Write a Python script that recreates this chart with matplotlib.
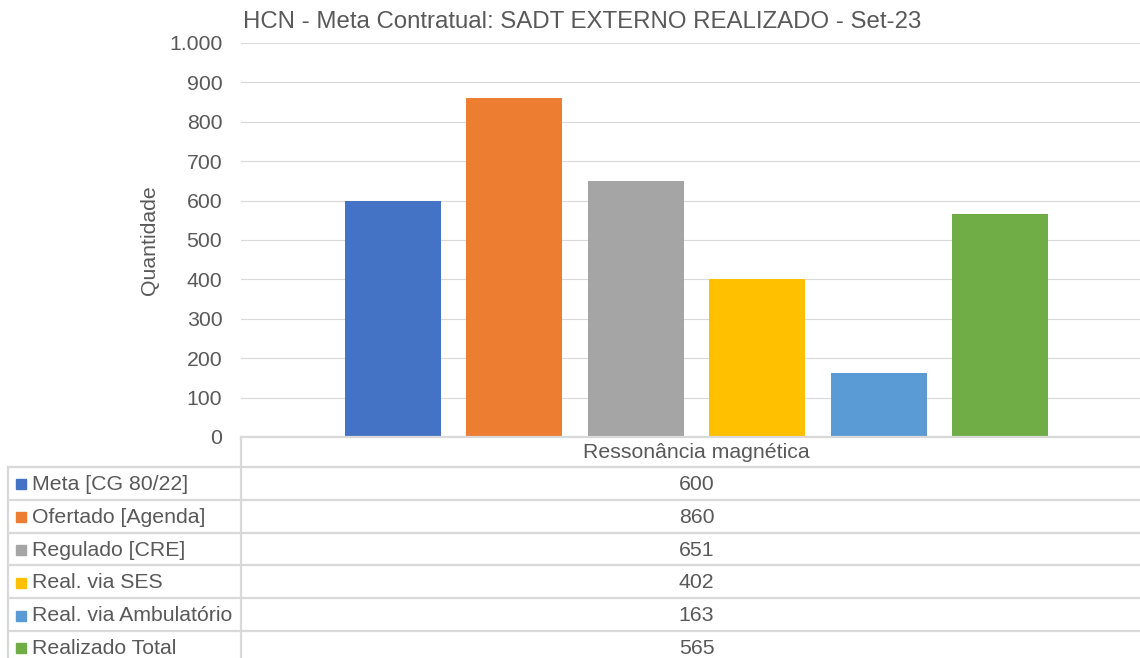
import matplotlib
matplotlib.use("Agg")
import matplotlib.pyplot as plt
from matplotlib.lines import Line2D
from matplotlib.patches import Rectangle

plt.rcParams['font.family'] = ['Liberation Sans', 'DejaVu Sans']

title = "HCN - Meta Contratual: SADT EXTERNO REALIZADO - Set-23"
category = "Ressonância magnética"
series = ["Meta [CG 80/22]", "Ofertado [Agenda]", "Regulado [CRE]",
          "Real. via SES", "Real. via Ambulatório", "Realizado Total"]
values = [600, 860, 651, 402, 163, 565]
colors = ["#4472C4", "#ED7D31", "#A5A5A5", "#FFC000", "#5B9BD5", "#70AD47"]
yticks = [0, 100, 200, 300, 400, 500, 600, 700, 800, 900, 1000]
ytick_labels = ["0", "100", "200", "300", "400", "500", "600", "700", "800", "900", "1.000"]

W, H = 1140, 658
fig = plt.figure(figsize=(W / 100, H / 100), dpi=100)
txt = "#595959"
grid = "#D9D9D9"
fs = 15.3

def fx(px):
    return px / W

def fy(py):
    return 1 - py / H

ax_l, ax_r, ax_t, ax_b = 241, 1140, 43, 437
ax = fig.add_axes([fx(ax_l), fy(ax_b), fx(ax_r - ax_l), (ax_b - ax_t) / H])
step = 121.4
c0 = 393
ax.set_xlim((ax_l - c0) / step, (ax_r - c0) / step)
ax.set_ylim(0, 1000)
for i, (v, c) in enumerate(zip(values, colors)):
    ax.bar(i, v, width=96 / step, color=c, zorder=3)
ax.set_yticks(yticks)
ax.set_yticklabels(ytick_labels, color=txt, fontsize=fs)
ax.tick_params(axis='y', length=0, pad=13.5)
ax.set_xticks([])
ax.grid(axis='y', color=grid, linewidth=0.8, zorder=0)
for s in ax.spines.values():
    s.set_visible(False)

fig.text(fx(150), fy(240), "Quantidade", color=txt, fontsize=fs, rotation=90,
         ha='center', va='center')
fig.text(fx(243), fy(22), title, color=txt, fontsize=17.3, ha='left', va='center')

# data table
lw = 1.6
group_center = (len(values) - 1) / 2
center_px = c0 + step * group_center
fig.add_artist(Line2D([fx(ax_l), 1], [fy(ax_b), fy(ax_b)], color=grid, lw=lw))
row_top = 467
row_h = 32.8
n = len(series)
fig.add_artist(Line2D([fx(ax_l), fx(ax_l)], [fy(ax_b), fy(row_top + row_h * n)], color=grid, lw=lw))
fig.add_artist(Line2D([fx(8), fx(8)], [fy(row_top), fy(row_top + row_h * n)], color=grid, lw=lw))
for k in range(n + 1):
    yy = row_top + row_h * k
    fig.add_artist(Line2D([fx(8), 1], [fy(yy), fy(yy)], color=grid, lw=lw))
fig.text(fx(center_px), fy((ax_b + row_top) / 2 + 1), category, color=txt, fontsize=fs,
         ha='center', va='center')
for k, (name, v, c) in enumerate(zip(series, values, colors)):
    yc = row_top + row_h * k + row_h / 2 + 1
    fig.add_artist(Rectangle((fx(16), fy(yc + 5)), fx(10), 10 / H, color=c))
    fig.text(fx(32), fy(yc), name, color=txt, fontsize=fs, ha='left', va='center')
    fig.text(fx(center_px), fy(yc), str(v), color=txt, fontsize=fs, ha='center', va='center')

fig.savefig("out.png", dpi=100)
